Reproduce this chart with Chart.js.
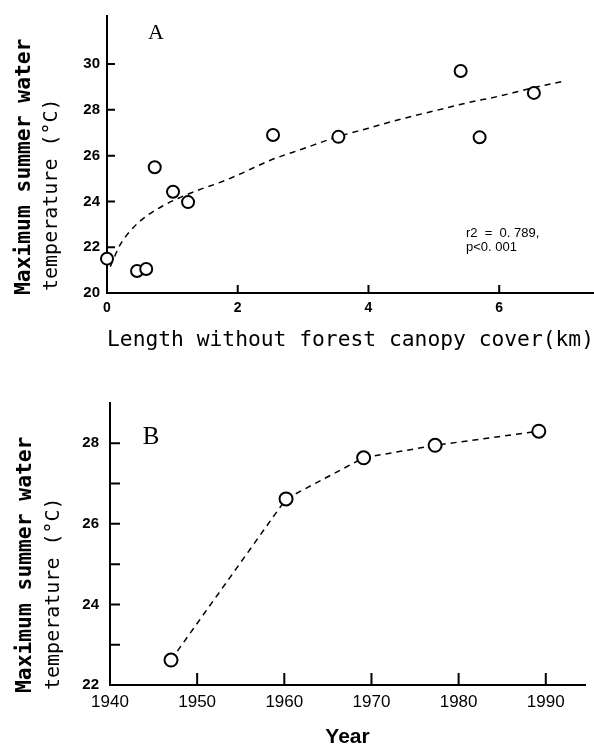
<!DOCTYPE html>
<html>
<head>
<meta charset="utf-8">
<script src="https://cdn.jsdelivr.net/npm/chart.js@4.4.1/dist/chart.umd.min.js"></script>
<style>
  html, body { margin: 0; padding: 0; background: #fff; }
  body { width: 594px; height: 745px; position: relative; overflow: hidden; }
  #boxA { position: absolute; left: 0; top: 0; width: 594px; height: 362px; }
  #boxB { position: absolute; left: 0; top: 370px; width: 594px; height: 375px; }
</style>
</head>
<body>
<div id="boxA"><canvas id="chartA"></canvas></div>
<div id="boxB"><canvas id="chartB"></canvas></div>
<script>
// ---- Panel A data ----
const lengthKm = [0.0, 0.46, 0.6, 0.73, 1.01, 1.24, 2.54, 3.54, 5.41, 5.7, 6.53];
const maxTempA = [21.5, 20.96, 21.05, 25.49, 24.42, 23.97, 26.9, 26.82, 29.7, 26.8, 28.74];
// dashed fitted curve
const fitX = [0.05, 0.2, 0.4, 0.6, 0.85, 1.1, 1.4, 1.7, 2.0, 2.5, 3.0, 3.5, 4.0, 4.5, 5.0, 5.5, 6.0, 6.5, 7.02];
const fitY = [21.15, 22.1, 22.85, 23.35, 23.8, 24.15, 24.5, 24.8, 25.15, 25.8, 26.3, 26.8, 27.2, 27.6, 27.95, 28.3, 28.6, 28.95, 29.27];
const statLines = ['r2  =  0. 789,', 'p<0. 001'];

// ---- Panel B data ----
const years = [1947, 1960.2, 1969.1, 1977.3, 1989.2];
const maxTempB = [22.62, 26.62, 27.64, 27.95, 28.3];

const yTitle1 = 'Maximum summer water';
const yTitle2 = 'temperature (°C)';

const MONO = '"DejaVu Sans Mono", "Liberation Mono", monospace';
const SANS = '"Liberation Sans", Arial, sans-serif';
const SERIF = '"Liberation Serif", "Times New Roman", serif';

const toXY = (xs, ys) => xs.map((x, i) => ({x: x, y: ys[i]}));

// inner tick marks + text decorations
const decor = {
  id: 'decor',
  afterDraw(chart, args, o) {
    const ctx = chart.ctx;
    const xs = chart.scales.x, ys = chart.scales.y;
    const a = chart.chartArea;
    ctx.save();
    ctx.strokeStyle = '#000';
    ctx.lineWidth = 2;
    ctx.beginPath();
    xs.ticks.forEach(t => {
      const px = xs.getPixelForValue(t.value);
      ctx.moveTo(px, a.bottom);
      ctx.lineTo(px, a.bottom - o.xLen);
    });
    ys.ticks.forEach(t => {
      const py = ys.getPixelForValue(t.value);
      ctx.moveTo(a.left, py);
      ctx.lineTo(a.left + o.yLen, py);
    });
    ctx.stroke();
    ctx.fillStyle = '#000';
    // rotated y title (two lines, different weights)
    o.yTitle.forEach(l => {
      ctx.save();
      ctx.translate(l.cx, l.startY);
      ctx.rotate(-Math.PI / 2);
      ctx.font = l.font;
      ctx.textAlign = 'left';
      ctx.textBaseline = 'middle';
      ctx.fillText(l.text, 0, 0);
      ctx.restore();
    });
    // text labels
    o.texts.forEach(t => {
      ctx.font = t.font;
      ctx.textAlign = t.align || 'center';
      ctx.textBaseline = 'middle';
      ctx.fillText(t.text, t.x, t.y);
    });
    ctx.restore();
  }
};

Chart.register(decor);

new Chart(document.getElementById('chartA'), {
  type: 'scatter',
  data: {
    datasets: [
      {
        data: toXY(lengthKm, maxTempA),
        showLine: false,
        pointStyle: 'circle',
        pointRadius: 6,
        pointBorderWidth: 2,
        borderColor: '#000',
        backgroundColor: '#fff',
        clip: false,
        order: 1
      },
      {
        data: toXY(fitX, fitY),
        showLine: true,
        borderColor: '#000',
        borderWidth: 1.5,
        borderDash: [6, 5],
        pointRadius: 0,
        cubicInterpolationMode: 'monotone',
        fill: false,
        clip: false,
        order: 2
      }
    ]
  },
  options: {
    responsive: true,
    maintainAspectRatio: false,
    animation: false,
    events: [],
    layout: { autoPadding: false, padding: { top: 14, right: 0, left: 0, bottom: 0 } },
    plugins: {
      legend: { display: false },
      tooltip: { enabled: false },
      decor: {
        xLen: 8, yLen: 8,
        yTitle: [
          { text: yTitle1, cx: 24, startY: 295, font: 'bold 21.3px ' + MONO },
          { text: yTitle2, cx: 52, startY: 291, font: '20px ' + MONO }
        ],
        texts: [
          { text: 'A', x: 156, y: 33, font: '22px ' + SERIF },
          { text: statLines[0], x: 466, y: 233, font: '13px ' + SANS, align: 'left' },
          { text: statLines[1], x: 466, y: 247, font: '13px ' + SANS, align: 'left' }
        ]
      }
    },
    scales: {
      x: {
        type: 'linear',
        min: 0, max: 7.45,
        afterFit: s => { s.height = 69; },
        grid: { display: false, drawTicks: false },
        border: { display: true, color: '#000', width: 2 },
        ticks: { stepSize: 2, includeBounds: false, color: '#000', padding: 7,
                 font: { family: SANS, size: 14, weight: 'bold' } },
        title: { display: true, text: 'Length without forest canopy cover(km)', color: '#000',
                 padding: { top: 0, bottom: 9 },
                 font: { family: MONO, size: 21.3, lineHeight: 1.2 } }
      },
      y: {
        type: 'linear',
        min: 20, max: 32.1,
        afterFit: s => { s.width = 107; },
        afterBuildTicks: s => { s.ticks = s.ticks.filter(t => t.value <= 30); },
        grid: { display: false, drawTicks: false },
        border: { display: true, color: '#000', width: 2 },
        ticks: { stepSize: 2, includeBounds: false, color: '#000', padding: 7,
                 font: { family: SANS, size: 15, weight: 'bold' } }
      }
    }
  }
});

new Chart(document.getElementById('chartB'), {
  type: 'scatter',
  data: {
    datasets: [
      {
        data: toXY(years, maxTempB),
        showLine: true,
        borderColor: '#000',
        borderWidth: 1.5,
        borderDash: [6, 5],
        pointStyle: 'circle',
        pointRadius: 6.5,
        pointBorderWidth: 2,
        pointBorderColor: '#000',
        pointBackgroundColor: '#fff',
        backgroundColor: '#fff',
        fill: false,
        clip: false
      }
    ]
  },
  options: {
    responsive: true,
    maintainAspectRatio: false,
    animation: false,
    events: [],
    layout: { autoPadding: false, padding: { top: 33, right: 9, left: 0, bottom: 0 } },
    plugins: {
      legend: { display: false },
      tooltip: { enabled: false },
      decor: {
        xLen: 12, yLen: 10,
        yTitle: [
          { text: yTitle1, cx: 25, startY: 323, font: 'bold 21.3px ' + MONO },
          { text: yTitle2, cx: 54, startY: 320, font: '20px ' + MONO }
        ],
        texts: [
          { text: 'B', x: 151, y: 67, font: '25px ' + SERIF }
        ]
      }
    },
    scales: {
      x: {
        type: 'linear',
        min: 1940, max: 1994.5,
        afterFit: s => { s.height = 60; },
        grid: { display: false, drawTicks: false },
        border: { display: true, color: '#000', width: 2 },
        ticks: { stepSize: 10, includeBounds: false, color: '#000', padding: 7,
                 callback: v => String(v),
                 font: { family: SANS, size: 17 } },
        title: { display: true, text: 'Year', color: '#000',
                 padding: { top: 0, bottom: 0 },
                 font: { family: SANS, size: 21, weight: 'bold', lineHeight: 0.7 } }
      },
      y: {
        type: 'linear',
        min: 22, max: 29,
        afterFit: s => { s.width = 110; },
        afterBuildTicks: s => { s.ticks = s.ticks.filter(t => t.value <= 28); },
        grid: { display: false, drawTicks: false },
        border: { display: true, color: '#000', width: 2 },
        ticks: { stepSize: 1, includeBounds: false, color: '#000', padding: 11,
                 callback: v => (v % 2 === 0 ? String(v) : ''),
                 font: { family: SANS, size: 15, weight: 'bold' } }
      }
    }
  }
});
</script>
</body>
</html>
